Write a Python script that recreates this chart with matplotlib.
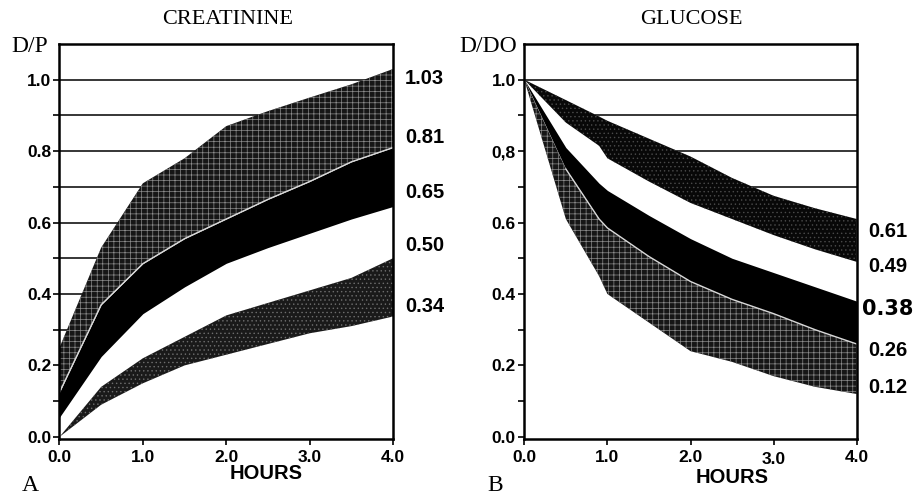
import matplotlib
matplotlib.use("Agg")
import matplotlib.pyplot as plt
import matplotlib.transforms as mtransforms

# ---------------- data ----------------
hours_cr = [0.0, 0.5, 1.0, 1.5, 2.0, 2.5, 3.0, 3.5, 4.0]
cr_1 = [0.25, 0.53, 0.71, 0.78, 0.87, 0.912, 0.95, 0.987, 1.03]
cr_2 = [0.125, 0.37, 0.485, 0.555, 0.61, 0.665, 0.715, 0.77, 0.81]
cr_3 = [0.055, 0.225, 0.345, 0.42, 0.486, 0.53, 0.57, 0.61, 0.645]
cr_4 = [0.0, 0.14, 0.22, 0.28, 0.34, 0.375, 0.41, 0.445, 0.50]
cr_5 = [0.0, 0.09, 0.15, 0.20, 0.23, 0.26, 0.29, 0.31, 0.337]
cr_end_labels = ["1.03", "0.81", "0.65", "0.50", "0.34"]

hours_gl = [0.0, 0.5, 0.9, 1.0, 1.5, 2.0, 2.5, 3.0, 3.5, 4.0]
gl_1 = [1.0, 0.943, 0.897, 0.885, 0.835, 0.785, 0.725, 0.675, 0.64, 0.61]
gl_2 = [1.0, 0.88, 0.815, 0.78, 0.715, 0.655, 0.61, 0.565, 0.525, 0.49]
gl_3 = [1.0, 0.81, 0.71, 0.69, 0.62, 0.555, 0.50, 0.46, 0.42, 0.38]
gl_4 = [1.0, 0.75, 0.61, 0.585, 0.505, 0.435, 0.385, 0.345, 0.30, 0.26]
gl_5 = [1.0, 0.61, 0.45, 0.40, 0.32, 0.24, 0.21, 0.17, 0.14, 0.12]
gl_end_labels = ["0.61", "0.49", "0.38", "0.26", "0.12"]

x_ticks = [0.0, 1.0, 2.0, 3.0, 4.0]
x_ticklabels = ["0.0", "1.0", "2.0", "3.0", "4.0"]
y_ticks = [0.0, 0.2, 0.4, 0.6, 0.8, 1.0]
y_ticklabels_cr = ["0.0", "0.2", "0.4", "0.6", "0.8", "1.0"]
y_ticklabels_gl = ["0.0", "0.2", "0.4", "0.6", "0,8", "1.0"]
grid_levels = [0.3, 0.4, 0.5, 0.6, 0.7, 0.8, 0.9, 1.0]

# ---------------- layout ----------------
cr_label_pos = [1.003, 0.839, 0.683, 0.537, 0.364]
gl_label_pos = [0.576, 0.478, 0.357, 0.241, 0.138]

W, H = 920, 498
plt.rcParams['hatch.linewidth'] = 0.5
fig = plt.figure(figsize=(W / 100, H / 100), dpi=100)
fig.patch.set_facecolor("white")

SANS = ["Liberation Sans", "DejaVu Sans"]
SERIF = ["Liberation Serif", "DejaVu Serif"]


def fx(px):
    return px / W


def fy(py):
    return 1 - py / H


ax1 = fig.add_axes([fx(59.5), fy(439), fx(393) - fx(59.5), fy(44) - fy(439)])
ax2 = fig.add_axes([fx(524.3), fy(439), fx(856.7) - fx(524.3), fy(44) - fy(439)])


def style_axes(ax, ylabels):
    ax.set_xlim(0, 4.0)
    ax.set_ylim(-0.006, 1.1)
    for s in ax.spines.values():
        s.set_linewidth(1.8)
        s.set_color("black")
        s.set_zorder(10)
    ax.set_xticks(x_ticks)
    ax.set_xticklabels(x_ticklabels, fontfamily=SANS, fontweight="bold", fontsize=12.5)
    ax.set_yticks(y_ticks)
    ax.set_yticklabels(ylabels, fontfamily=SANS, fontweight="bold", fontsize=12.5)
    ax.set_yticks([0.1, 0.3, 0.5, 0.7, 0.9], minor=True)
    ax.tick_params(axis="both", which="both", direction="out", width=1.2, color="black")
    ax.tick_params(axis="x", which="major", length=4, pad=4)
    ax.tick_params(axis="y", which="major", length=4, pad=2)
    ax.tick_params(axis="y", which="minor", length=4)
    ax.hlines(grid_levels, 0, 4.0, colors="black", linewidth=1.1, zorder=1)


style_axes(ax1, y_ticklabels_cr)
style_axes(ax2, y_ticklabels_gl)

# the "3.0" label of panel B sits a little lower in the original
lab30 = ax2.get_xticklabels()[3]
lab30.set_transform(lab30.get_transform() + mtransforms.ScaledTranslation(0, -2 / 100, fig.dpi_scale_trans))

# ---- creatinine ----
ax1.fill_between(hours_cr, -0.01, cr_1, color="white", zorder=2, linewidth=0)
ax1.fill_between(hours_cr, cr_2, cr_1, facecolor="#161616", edgecolor="#8c8c8c",
                 hatch="+++", linewidth=0, zorder=3)
ax1.fill_between(hours_cr, cr_3, cr_2, color="black", linewidth=0, zorder=3)
ax1.fill_between(hours_cr, cr_5, cr_4, facecolor="#1a1a1a", edgecolor="#6e6e6e",
                 hatch="....", linewidth=0, zorder=3)
ax1.plot(hours_cr, cr_2, color="#d8d8d8", linewidth=1.0, zorder=4)

# ---- glucose ----
ax2.fill_between(hours_gl, -0.01, gl_1, color="white", zorder=2, linewidth=0)
ax2.fill_between(hours_gl, gl_2, gl_1, facecolor="#080808", edgecolor="#4a4a4a",
                 hatch="....", linewidth=0, zorder=3)
ax2.fill_between(hours_gl, gl_4, gl_3, color="black", linewidth=0, zorder=3)
ax2.fill_between(hours_gl, gl_5, gl_4, facecolor="#161616", edgecolor="#8c8c8c",
                 hatch="+++", linewidth=0, zorder=3)
ax2.plot(hours_gl[1:], gl_4[1:], color="#d8d8d8", linewidth=1.0, zorder=4)

# ---- end labels ----
t1 = mtransforms.blended_transform_factory(ax1.transAxes, ax1.transData)
for lab, yv in zip(cr_end_labels, cr_label_pos):
    ax1.text(1.0 + 12 / 333.5, yv, lab, transform=t1, ha="left", va="center",
             fontfamily=SANS, fontweight="bold", fontsize=14.5, clip_on=False)
t2 = mtransforms.blended_transform_factory(ax2.transAxes, ax2.transData)
for lab, yv in zip(gl_end_labels, gl_label_pos):
    if lab == "0.38":
        ax2.text(1.0 + 5 / 332.4, yv, lab, transform=t2, ha="left", va="center",
                 fontfamily=["DejaVu Sans"], fontweight="bold", fontsize=15, clip_on=False)
    else:
        ax2.text(1.0 + 12 / 332.4, yv, lab, transform=t2, ha="left", va="center",
                 fontfamily=SANS, fontweight="bold", fontsize=14.5, clip_on=False)

# ---- titles / axis texts ----
fig.text(fx(228), fy(19), "CREATININE", ha="center", va="center", fontfamily=SERIF, fontsize=16)
fig.text(fx(691), fy(19), "GLUCOSE", ha="center", va="center", fontfamily=SERIF, fontsize=16)
fig.text(fx(30), fy(47), "D/P", ha="center", va="center", fontfamily=SERIF, fontsize=17)
fig.text(fx(488), fy(47), "D/DO", ha="center", va="center", fontfamily=SERIF, fontsize=17)
fig.text(fx(266), fy(473), "HOURS", ha="center", va="center", fontfamily=SANS,
         fontweight="bold", fontsize=14.5)
fig.text(fx(732), fy(477), "HOURS", ha="center", va="center", fontfamily=SANS,
         fontweight="bold", fontsize=14.5)
fig.text(fx(30), fy(485), "A", ha="center", va="center", fontfamily=SERIF, fontsize=17)
fig.text(fx(495), fy(485), "B", ha="center", va="center", fontfamily=SERIF, fontsize=17)

fig.savefig("out.png", dpi=100, facecolor="white")
